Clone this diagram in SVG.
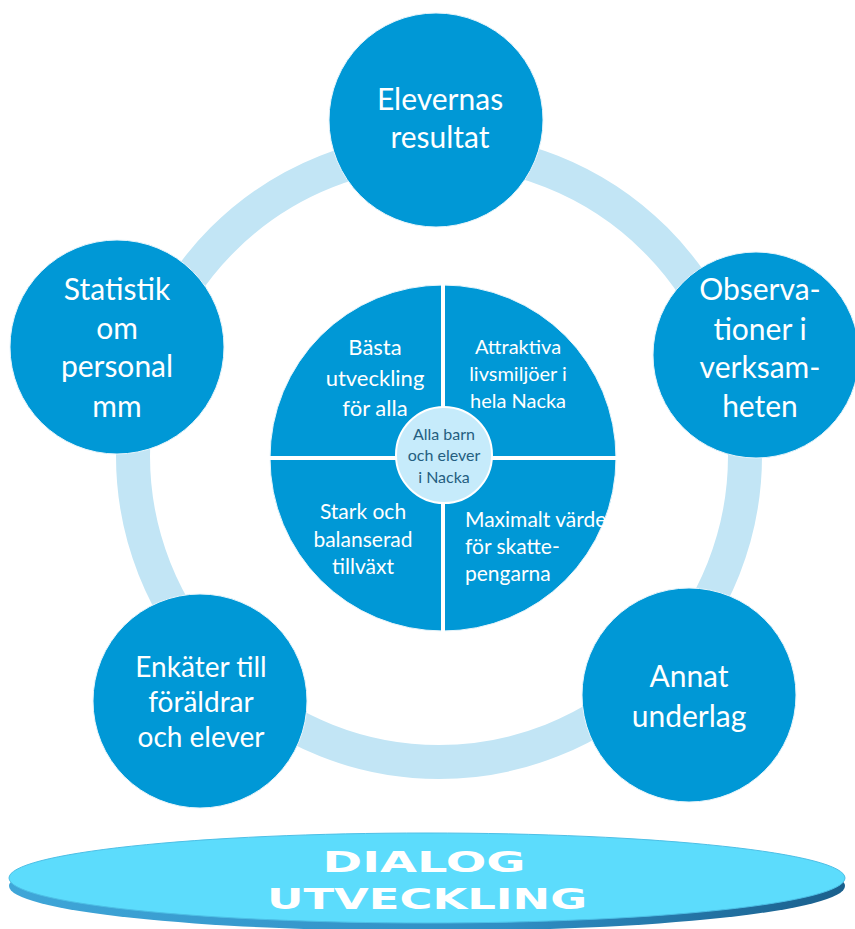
<svg xmlns="http://www.w3.org/2000/svg" width="855" height="929" viewBox="0 0 855 929">
<defs>
<linearGradient id="rimGrad" x1="0" y1="0" x2="1" y2="0">
<stop offset="0" stop-color="#3FA6D8"/>
<stop offset="0.6" stop-color="#2F8EC4"/>
<stop offset="1" stop-color="#1A5F8C"/>
</linearGradient>
<style>
.node{fill:#0098D6;stroke:#E6F4FB;stroke-width:1}
.t{font-family:"Lato","Noto Sans",sans-serif;fill:#FFFFFF;text-anchor:middle}
.big{font-size:30px}
.mid{font-size:21px}
.ctr{font-family:"Lato","Noto Sans",sans-serif;fill:#245E80;text-anchor:middle;font-size:16px}
.dlg{font-family:"DejaVu Sans",sans-serif;font-weight:bold;fill:#FFFFFF;text-anchor:middle;font-size:28px}
</style>
</defs>
<rect width="855" height="929" fill="#FFFFFF"/>
<g id="connectors">
<circle cx="439" cy="456" r="306" fill="none" stroke="#C2E5F5" stroke-width="34"/>
</g>
<g id="center-pie">
<circle cx="443" cy="458" r="173" fill="#0098D6" stroke="#E6F4FB" stroke-width="1"/>
<line x1="443" y1="284" x2="443" y2="632" stroke="#FFFFFF" stroke-width="4"/>
<line x1="269" y1="458" x2="617" y2="458" stroke="#FFFFFF" stroke-width="4"/>
<text class="t" font-size="22"><tspan x="375" y="355">Bästa</tspan><tspan x="375" y="386">utveckling</tspan><tspan x="375" y="416">för alla</tspan></text>
<text class="t" font-size="20"><tspan x="518" y="354">Attraktiva</tspan><tspan x="518" y="381">livsmiljöer i</tspan><tspan x="518" y="408">hela Nacka</tspan></text>
<text class="t mid"><tspan x="363" y="519">Stark och</tspan><tspan x="363" y="547">balanserad</tspan><tspan x="363" y="574">tillväxt</tspan></text>
<text class="t mid" style="text-anchor:start"><tspan x="465" y="527">Maximalt värde</tspan><tspan x="465" y="554">för skatte-</tspan><tspan x="465" y="581">pengarna</tspan></text>
</g>
<g id="center-core">
<circle cx="444" cy="455" r="48" fill="#C6EBFB" stroke="#FFFFFF" stroke-width="2"/>
<text class="ctr"><tspan x="444" y="440">Alla barn</tspan><tspan x="444" y="461">och elever</tspan><tspan x="444" y="483">i Nacka</tspan></text>
</g>
<g id="node-elevernas">
<circle class="node" cx="436" cy="120" r="107"/>
<text class="t big"><tspan x="440" y="110">Elevernas</tspan><tspan x="440" y="148">resultat</tspan></text>
</g>
<g id="node-observationer">
<circle class="node" cx="756" cy="355" r="103"/>
<text class="t big"><tspan x="760" y="300">Observa-</tspan><tspan x="760" y="340">tioner i</tspan><tspan x="760" y="378">verksam-</tspan><tspan x="760" y="417">heten</tspan></text>
</g>
<g id="node-annat">
<circle class="node" cx="689" cy="695" r="107"/>
<text class="t big"><tspan x="689" y="687">Annat</tspan><tspan x="689" y="727">underlag</tspan></text>
</g>
<g id="node-enkater">
<circle class="node" cx="200" cy="701" r="107"/>
<text class="t" font-size="28"><tspan x="201" y="677">Enkäter till</tspan><tspan x="201" y="712">föräldrar</tspan><tspan x="201" y="747">och elever</tspan></text>
</g>
<g id="node-statistik">
<circle class="node" cx="117" cy="347" r="107"/>
<text class="t big"><tspan x="117" y="300">Statistik</tspan><tspan x="117" y="339">om</tspan><tspan x="117" y="377">personal</tspan><tspan x="117" y="417">mm</tspan></text>
</g>
<g id="node-dialog">
<ellipse cx="427" cy="886" rx="418" ry="45" fill="url(#rimGrad)"/>
<ellipse cx="427" cy="878" rx="418" ry="45" fill="#5CDCFC" stroke="#4DBFE6" stroke-width="1"/>
<text class="dlg" x="424" y="872" textLength="203" lengthAdjust="spacingAndGlyphs">DIALOG</text>
<text class="dlg" x="427" y="909" textLength="320" lengthAdjust="spacingAndGlyphs">UTVECKLING</text>
</g>
</svg>
